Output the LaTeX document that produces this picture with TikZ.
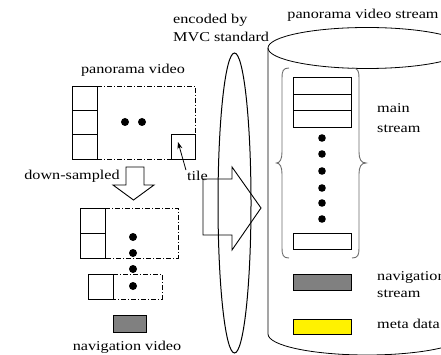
\documentclass[tikz,border=0pt]{standalone}
\usepackage{fontspec}
\setmainfont[FakeStretch=1.2]{Liberation Serif}
\usetikzlibrary{arrows.meta}
\definecolor{navgray}{RGB}{128,128,128}
\definecolor{bracegray}{RGB}{110,110,110}
\tikzset{
  lbl/.style={font=\fontsize{13.5}{16}\selectfont, inner sep=1pt},
  solidbox/.style={draw=black, line width=0.9pt},
  dashdotline/.style={draw=black, line width=0.8pt, dash pattern=on 5pt off 2pt on 1pt off 2pt},
  bigdot/.style={fill=black},
  hollowarrow/.style={draw=black, line width=0.9pt, line join=miter},
  bracestyle/.style={draw=bracegray, line width=0.9pt},
  cyl/.style={draw=black, line width=0.8pt}
}
\begin{document}
\begin{tikzpicture}[x=1pt,y=-1pt]
\useasboundingbox (0,0) rectangle (441,355);
\clip (0,0) rectangle (441,355);
\fill[white] (0,0) rectangle (441,355);

% ---------- left: panorama video ----------
\node[lbl] (panlbl) at (133,70) {panorama video};
\draw[solidbox] (72,86) rectangle (97,110);
\draw[solidbox] (72,110) rectangle (97,134);
\draw[solidbox] (72,134) rectangle (97,159);
\draw[dashdotline] (97,86) -- (195,86) -- (195,134);
\draw[dashdotline] (97,159) -- (171,159);
\node[solidbox, minimum width=24pt, minimum height=25pt, inner sep=0pt] (tilebox) at (183,146.5) {};
\fill[bigdot] (125,122) circle[radius=4];
\fill[bigdot] (142,122) circle[radius=4];

\node[lbl] (downlbl) at (72,176) {down-sampled};
\node[lbl] (tile) at (197.5,176) {tile};
\coordinate (tiletip) at (178,142);
\draw[line width=0.8pt, -{Stealth[length=7pt,width=5pt]}] (tile.north west) -- (tiletip);

% hollow down arrow
\draw[hollowarrow] (126,167) -- (144,167) -- (144,185) -- (154,185) -- (133.5,200) -- (113,185) -- (126,185) -- cycle;

% down-sampled level 1
\draw[solidbox] (80,208) rectangle (105,233);
\draw[solidbox] (80,233) rectangle (105,258);
\draw[dashdotline] (105,208) -- (178,208) -- (178,258) -- (105,258);
% down-sampled level 2
\draw[solidbox] (88,274) rectangle (113,299);
\draw[dashdotline] (113,274) -- (162,274) -- (162,299) -- (113,299);
\foreach \yy in {237,253,269,286} \fill[bigdot] (133,\yy) circle[radius=4];

% navigation video
\draw[solidbox, fill=navgray] (113,315) rectangle (146,332);
\node[lbl] (navlbl) at (127,347) {navigation video};

% ---------- middle: encoder ----------
\node[lbl, anchor=base west] (enc1) at (172,24) {encoded by};
\node[lbl, anchor=base west] (enc2) at (172,42) {MVC standard};
\draw[hollowarrow] (203,179) -- (232,179) -- (232,167) -- (261,208) -- (232,250) -- (232,235) -- (203,235) -- cycle;
\draw[line width=1pt] (234.5,203) ellipse[x radius=16.5, y radius=150];

% ---------- right: cylinder ----------
\node[lbl, anchor=base] (streamlbl) at (363,19) {panorama video stream};
\draw[cyl] (367,48) ellipse[x radius=99, y radius=20.5];
\draw[cyl] (268,48) -- (268,334) arc[start angle=180, end angle=0, x radius=99, y radius=21];

% braces
\draw[bracestyle] (289,68) .. controls (283,68) and (282,71) .. (282,78) -- (282,152)
  .. controls (282,159) and (280,163) .. (276.5,163)
  .. controls (280,163) and (282,167) .. (282,174) -- (282,248)
  .. controls (282,255) and (283,258) .. (289,258);
\draw[bracestyle] (352,68) .. controls (358,68) and (359,71) .. (359,78) -- (359,152)
  .. controls (359,159) and (361,163) .. (366,163)
  .. controls (361,163) and (359,167) .. (359,174) -- (359,248)
  .. controls (359,255) and (358,258) .. (352,258);

\draw[solidbox] (293,77) rectangle (351,94);
\draw[solidbox] (293,94) rectangle (351,110);
\draw[solidbox] (293,110) rectangle (351,127);
\foreach \yy in {138,154,171,188,203,219} \fill[bigdot] (322,\yy) circle[radius=3.8];
\draw[solidbox] (293,233) rectangle (351,249);
\draw[solidbox, fill=navgray] (293,274) rectangle (351,290);
\draw[solidbox, fill=yellow] (293,319) rectangle (351,334);

\node[lbl, anchor=base west] (main1) at (376,113) {main};
\node[lbl, anchor=base west] (main2) at (376,133) {stream};
\node[lbl, anchor=base west] (nav1) at (376,280) {navigation};
\node[lbl, anchor=base west] (nav2) at (376,297) {stream};
\node[lbl, anchor=base west] (meta) at (376,328) {meta data};
\end{tikzpicture}
\end{document}
